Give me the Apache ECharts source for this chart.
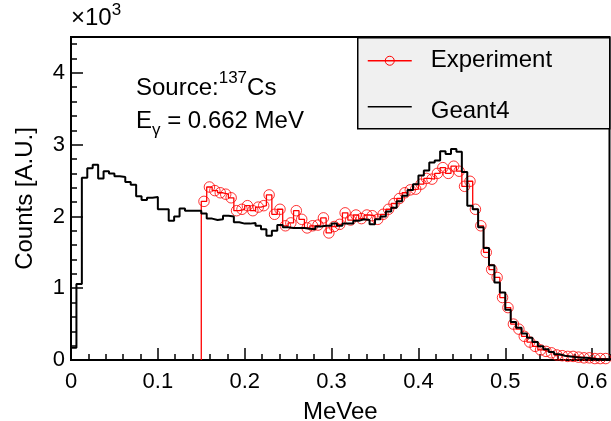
<!DOCTYPE html>
<html>
<head>
<meta charset="utf-8">
<title>137Cs light output spectrum</title>
<script src="https://cdn.jsdelivr.net/npm/echarts@6/dist/echarts.min.js"></script>
<style>
  html, body { margin: 0; padding: 0; background: #fff; }
  #chart { width: 611px; height: 421px; }
</style>
</head>
<body>
<div id="chart"></div>
<script>
// Histogram binning (MeVee)
const binWidth = 0.00625;

// Geant4 simulation, counts per bin, bins start at 0
const geant4Counts = [
  170, 1060, 2540, 2670, 2720, 2530, 2630, 2600, 2560, 2550,
  2480, 2440, 2280, 2230, 2260, 2270, 2100, 2100, 1940, 2000,
  2110, 2080, 2080, 2080, 2040, 1970, 1950, 1960, 2010, 2000,
  1920, 1900, 1900, 1910, 1870, 1820, 1730, 1800, 1880, 1850,
  1840, 1840, 1840, 1830, 1820, 1860, 1870, 1870, 1900, 1870,
  1900, 1900, 1940, 1960, 1950, 1890, 1960, 2000, 2070, 2120,
  2210, 2290, 2370, 2450, 2570, 2640, 2750, 2780, 2910, 2870,
  2940, 2900, 2620, 2150, 2100, 1850, 1560, 1320, 1080, 940,
  700, 530, 450, 370, 310, 250, 190, 150, 110, 80,
  60, 50, 40, 30, 30, 20, 10, 10, 10, 10
];

// Measured spectrum, counts per bin, first bin starts at 0.15 MeVee
const experimentFirstBin = 24;
const experimentCounts = [
  2210, 2410, 2360, 2330, 2310, 2260, 2080, 2100, 2150, 2080,
  2130, 2150, 2300, 2030, 2100, 1870, 1910, 2080, 1960, 1840,
  1870, 1880, 1980, 1770, 1860, 1890, 2050, 1950, 2020, 1970,
  2020, 2010, 1960, 2030, 2100, 2180, 2250, 2330, 2370, 2380,
  2450, 2530, 2520, 2600, 2680, 2600, 2700, 2630, 2420, 2490,
  2100, 1870, 1500, 1260, 1150, 870, 730, 500, 430, 330,
  250, 190, 140, 120, 100, 70, 60, 50, 50, 40,
  30, 30, 20, 20, 20
];

// Axis ticks
const xMajorTicks = [0, 0.1, 0.2, 0.3, 0.4, 0.5, 0.6];
const yMajorTicks = [0, 1000, 2000, 3000, 4000];
const xRange = [0, 0.62];
const yRange = [0, 4500];

// Outline of a histogram as a step polyline, starting from zero at the first edge
function stepOutline(firstBin, counts) {
  const pts = [[firstBin * binWidth, 0]];
  counts.forEach((c, i) => {
    const lo = (firstBin + i) * binWidth;
    pts.push([lo, c], [lo + binWidth, c]);
  });
  return pts;
}
function binCentres(firstBin, counts) {
  return counts.map((c, i) => [(firstBin + i + 0.5) * binWidth, c]);
}

const FONT = '"Liberation Sans", Arial, Helvetica, sans-serif';
const chart = echarts.init(document.getElementById('chart'), null, { renderer: 'canvas' });

const majorTickStyle = { show: true, inside: true, length: 12, lineStyle: { color: '#000', width: 1.5 } };
const minorTickStyle = { show: true, inside: true, length: 6, lineStyle: { color: '#000', width: 1.5 } };

chart.setOption({
  animation: false,
  backgroundColor: '#fff',
  grid: {
    left: 71, right: 1.5, top: 37, bottom: 61,
    outerBoundsMode: 'none', containLabel: false,
    show: true, borderColor: '#000', borderWidth: 2, backgroundColor: 'transparent'
  },
  xAxis: [
    {
      type: 'value', position: 'bottom', min: xRange[0], max: xRange[1],
      interval: xMajorTicks[1] - xMajorTicks[0],
      axisLine: { show: true, onZero: false, lineStyle: { color: '#000', width: 2 } },
      axisTick: majorTickStyle,
      splitLine: { show: false },
      axisLabel: {
        show: true, showMaxLabel: false, margin: 11, color: '#000',
        fontFamily: FONT, fontSize: 22,
        formatter: v => String(Math.round(v * 10) / 10)
      },
      name: 'MeVee', nameLocation: 'middle', nameGap: 40,
      nameTextStyle: { color: '#000', fontFamily: FONT, fontSize: 24 }
    },
    {
      type: 'value', position: 'bottom', min: xRange[0], max: xRange[1], interval: 0.02,
      axisLine: { show: false, onZero: false },
      axisTick: minorTickStyle,
      axisLabel: { show: false },
      splitLine: { show: false }
    }
  ],
  yAxis: [
    {
      type: 'value', position: 'left', min: yRange[0], max: yRange[1],
      interval: yMajorTicks[1] - yMajorTicks[0],
      axisLine: { show: true, onZero: false, lineStyle: { color: '#000', width: 2 } },
      axisTick: majorTickStyle,
      splitLine: { show: false },
      axisLabel: {
        show: true, showMaxLabel: false, margin: 6, color: '#000',
        fontFamily: FONT, fontSize: 22,
        formatter: v => String(v / 1000)
      },
      name: 'Counts [A.U.]', nameLocation: 'middle', nameGap: 34,
      nameTextStyle: { color: '#000', fontFamily: FONT, fontSize: 24 }
    },
    {
      type: 'value', position: 'left', min: yRange[0], max: yRange[1], interval: 200,
      axisLine: { show: false, onZero: false },
      axisTick: minorTickStyle,
      axisLabel: { show: false },
      splitLine: { show: false }
    }
  ],
  series: [
    {
      name: 'Experiment',
      type: 'line',
      xAxisIndex: 0, yAxisIndex: 0,
      data: stepOutline(experimentFirstBin, experimentCounts),
      showSymbol: false,
      lineStyle: { color: '#ff0000', width: 1.3 },
      z: 2
    },
    {
      name: 'Experiment markers',
      type: 'scatter',
      xAxisIndex: 0, yAxisIndex: 0,
      data: binCentres(experimentFirstBin, experimentCounts),
      symbol: 'circle',
      symbolSize: 10.5,
      itemStyle: { color: 'rgba(0,0,0,0)', borderColor: '#ff0000', borderWidth: 1 },
      z: 3
    },
    {
      name: 'Geant4',
      type: 'line',
      xAxisIndex: 0, yAxisIndex: 0,
      data: stepOutline(0, geant4Counts),
      showSymbol: false,
      lineStyle: { color: '#000', width: 2 },
      z: 4
    }
  ],
  graphic: [
    // exponent of the y axis
    {
      type: 'text', left: 71, top: 2, z: 10,
      style: {
        text: '{m|×10}{e|3}',
        rich: {
          m: { fontFamily: FONT, fontSize: 24, fill: '#000', lineHeight: 28, verticalAlign: 'bottom' },
          e: { fontFamily: FONT, fontSize: 17, fill: '#000', lineHeight: 28, verticalAlign: 'top' }
        }
      }
    },
    // source annotation
    {
      type: 'text', left: 136, top: 70, z: 10,
      style: {
        text: '{a|Source:}{s|137}{a|Cs}',
        rich: {
          a: { fontFamily: FONT, fontSize: 24, fill: '#000', lineHeight: 30, verticalAlign: 'bottom' },
          s: { fontFamily: FONT, fontSize: 17, fill: '#000', lineHeight: 30, verticalAlign: 'top' }
        }
      }
    },
    {
      type: 'text', left: 136, top: 109, z: 10,
      style: {
        text: '{a|E}{g|γ}{a| = 0.662 MeV}',
        rich: {
          a: { fontFamily: FONT, fontSize: 24, fill: '#000', lineHeight: 30, verticalAlign: 'top' },
          g: { fontFamily: FONT, fontSize: 17, fill: '#000', lineHeight: 30, verticalAlign: 'bottom' }
        }
      }
    },
    // legend box
    {
      type: 'group', left: 357, top: 37, z: 20,
      children: [
        { type: 'rect', shape: { x: 0, y: 0, width: 252, height: 91 },
          style: { fill: '#f0f0f0', stroke: '#000', lineWidth: 1.5 } },
        { type: 'line', shape: { x1: 10, y1: 23, x2: 54, y2: 23 },
          style: { stroke: '#ff0000', lineWidth: 1.3 } },
        { type: 'circle', shape: { cx: 32, cy: 23, r: 4.5 },
          style: { fill: 'rgba(0,0,0,0)', stroke: '#ff0000', lineWidth: 1 } },
        { type: 'text', x: 73, y: 23,
          style: { text: 'Experiment', fontFamily: FONT, fontSize: 24, fill: '#000',
                   verticalAlign: 'middle', align: 'left' } },
        { type: 'line', shape: { x1: 10, y1: 69, x2: 54, y2: 69 },
          style: { stroke: '#000', lineWidth: 1.5 } },
        { type: 'text', x: 73, y: 74,
          style: { text: 'Geant4', fontFamily: FONT, fontSize: 24, fill: '#000',
                   verticalAlign: 'middle', align: 'left' } }
      ]
    }
  ]
});
</script>
</body>
</html>
